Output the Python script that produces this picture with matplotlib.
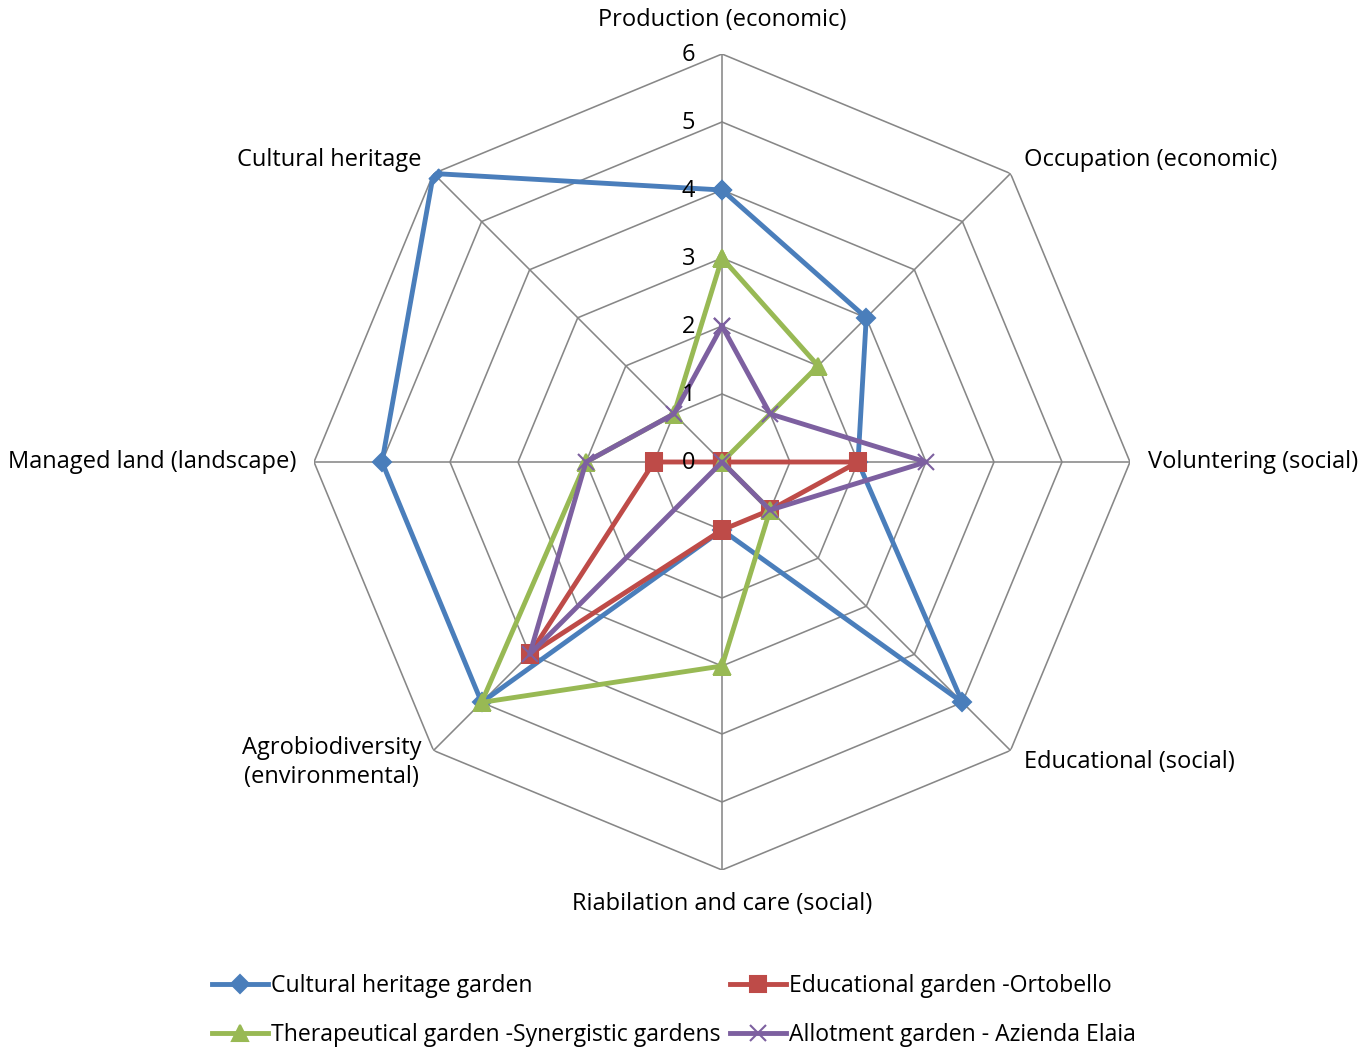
import numpy as np
import matplotlib
matplotlib.use("Agg")
import matplotlib.pyplot as plt
from matplotlib.lines import Line2D

plt.rcParams['font.family'] = ['Open Sans', 'DejaVu Sans']

categories = [
    "Production (economic)",
    "Occupation (economic)",
    "Voluntering (social)",
    "Educational (social)",
    "Riabilation and care (social)",
    "Agrobiodiversity\n(environmental)",
    "Managed land (landscape)",
    "Cultural heritage",
]

series_names = [
    "Cultural heritage garden",
    "Educational garden -Ortobello",
    "Therapeutical garden -Synergistic gardens",
    "Allotment garden - Azienda Elaia",
]

cultural_heritage = [4, 3, 2, 5, 1, 5, 5, 6]
educational = [0, 0, 2, 1, 1, 4, 1, 0]
therapeutical = [3, 2, 0, 1, 3, 5, 2, 1]
allotment = [2, 1, 3, 1, 0, 4, 2, 1]

radial_ticks = [0, 1, 2, 3, 4, 5, 6]

colors = ["#4A7EBB", "#BE4B48", "#98B954", "#7D60A0"]
markers = ["D", "s", "^", "x"]
msizes = [9, 12, 12, 11]
FS = 17
LFS = 16.6

W, H = 1365, 1047
fig = plt.figure(figsize=(W / 100, H / 100), dpi=100)
cx, cy, R = 722, 462, 408
ax = fig.add_axes([(cx - R) / W, (H - cy - R) / H, 2 * R / W, 2 * R / H],
                  projection="polar")
ax.set_theta_offset(np.pi / 2)
ax.set_theta_direction(-1)
ax.set_ylim(0, 6)
ax.axis("off")

n = len(categories)
theta = np.arange(n) * 2 * np.pi / n
closed = np.append(theta, theta[0])

grid_col = "#878787"
for r in radial_ticks[1:]:
    ax.plot(closed, [r] * (n + 1), color=grid_col, lw=1.15, zorder=1)
for t in theta:
    ax.plot([t, t], [0, 6], color=grid_col, lw=1.15, zorder=1)

for r in radial_ticks:
    ax.annotate(str(r), xy=(0, r), xytext=(-27, -1), textcoords="offset pixels",
                ha="right", va="center", fontsize=FS, color="black", zorder=10)

data = [cultural_heritage, educational, therapeutical, allotment]
for i, vals in enumerate(data):
    v = np.append(vals, vals[0])
    ax.plot(closed, v, color=colors[i], lw=3.5, marker=markers[i],
            markersize=msizes[i], markeredgewidth=1.5,
            zorder=3 + i, solid_joinstyle="round")

# category labels: (offset_x, offset_y, ha) in pixels relative to the outer vertex
label_pos = [
    (0, 442, "center"),
    (14, 14, "left"),
    (18, 0, "left"),
    (14, -12, "left"),
    (0, -442, "center"),
    (-12, -12, "right"),
    (-18, 0, "right"),
    (-12, 14, "right"),
]
for i, (t, lab) in enumerate(zip(theta, categories)):
    ox, oy, ha = label_pos[i]
    if i in (0, 4):
        ax.annotate(lab, xy=(0, 0), xytext=(0, oy), textcoords="offset pixels",
                    ha="center", va="center", fontsize=FS)
    else:
        ax.annotate(lab, xy=(t, 6), xytext=(ox, oy), textcoords="offset pixels",
                    ha=ha, va="center", fontsize=FS,
                    multialignment="center", linespacing=1.3)

handles = [Line2D([], [], color=colors[i], lw=3.5, marker=markers[i],
                  markersize=msizes[i], markeredgewidth=1.5)
           for i in range(4)]

# two legend columns, entries ordered row by row
for col, x0 in enumerate([212, 730]):
    idx = [col, col + 2]
    fig.legend([handles[k] for k in idx], [series_names[k] for k in idx],
               loc="upper left", bbox_to_anchor=(x0 / W, 1 - 974 / H),
               frameon=False, fontsize=LFS, handlelength=2.42,
               handletextpad=0.12, labelspacing=1.07, borderpad=0,
               borderaxespad=0)

fig.savefig("out.png", dpi=100)
